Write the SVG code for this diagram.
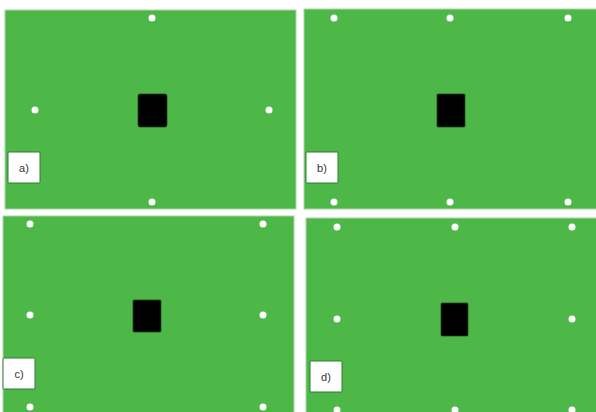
<svg xmlns="http://www.w3.org/2000/svg" width="596" height="412" viewBox="0 0 596 412">
<style>
.bg{fill:#4db748;stroke:#a9d8a6;stroke-width:1}
.dot{fill:#ffffff}
.blk{fill:#000000;stroke:#1d4a1b;stroke-width:0.8}
.lbl{fill:#ffffff;stroke:#2e7d32;stroke-width:1}
.t{font-family:"Liberation Sans",Arial,sans-serif;font-size:11px;fill:#333333;text-anchor:middle}
</style>
<rect width="596" height="412" fill="#ffffff"/>
<g id="panel-a">
<rect class="bg" x="5" y="10" width="291" height="199"/>
<rect class="blk" x="138" y="94" width="29" height="33" rx="2"/>
<circle class="dot" cx="152" cy="18" r="3.5"/>
<circle class="dot" cx="35" cy="110" r="3.5"/>
<circle class="dot" cx="269" cy="110" r="3.5"/>
<circle class="dot" cx="152" cy="202" r="3.5"/>
<rect class="lbl" x="8" y="152" width="32" height="31" rx="1"/>
<text class="t" x="24" y="172">a)</text>
</g>
<g id="panel-b">
<rect class="bg" x="304" y="9" width="293" height="200"/>
<rect class="blk" x="437" y="94" width="28" height="33" rx="1"/>
<circle class="dot" cx="334" cy="18" r="3.5"/>
<circle class="dot" cx="450" cy="18" r="3.5"/>
<circle class="dot" cx="568" cy="18" r="3.5"/>
<circle class="dot" cx="334" cy="202" r="3.5"/>
<circle class="dot" cx="450" cy="202" r="3.5"/>
<circle class="dot" cx="568" cy="202" r="3.5"/>
<rect class="lbl" x="306" y="152" width="32" height="31" rx="1"/>
<text class="t" x="322" y="172">b)</text>
</g>
<g id="panel-c">
<rect class="bg" x="3" y="216" width="291" height="197"/>
<rect class="blk" x="133" y="300" width="28" height="32" rx="1"/>
<circle class="dot" cx="30" cy="224" r="3.5"/>
<circle class="dot" cx="263" cy="224" r="3.5"/>
<circle class="dot" cx="30" cy="315" r="3.5"/>
<circle class="dot" cx="263" cy="315" r="3.5"/>
<circle class="dot" cx="30" cy="407" r="3.5"/>
<circle class="dot" cx="263" cy="407" r="3.5"/>
<rect class="lbl" x="3" y="358" width="32" height="31" rx="1"/>
<text class="t" x="19" y="378">c)</text>
</g>
<g id="panel-d">
<rect class="bg" x="306" y="218" width="291" height="195"/>
<rect class="blk" x="441" y="303" width="27" height="33" rx="1"/>
<circle class="dot" cx="337" cy="227" r="3.5"/>
<circle class="dot" cx="455" cy="227" r="3.5"/>
<circle class="dot" cx="572" cy="227" r="3.5"/>
<circle class="dot" cx="337" cy="319" r="3.5"/>
<circle class="dot" cx="572" cy="319" r="3.5"/>
<circle class="dot" cx="337" cy="410" r="3.5"/>
<circle class="dot" cx="455" cy="410" r="3.5"/>
<circle class="dot" cx="572" cy="410" r="3.5"/>
<rect class="lbl" x="310" y="361" width="32" height="31" rx="1"/>
<text class="t" x="326" y="381">d)</text>
</g>
<g id="connectors"/>
</svg>
